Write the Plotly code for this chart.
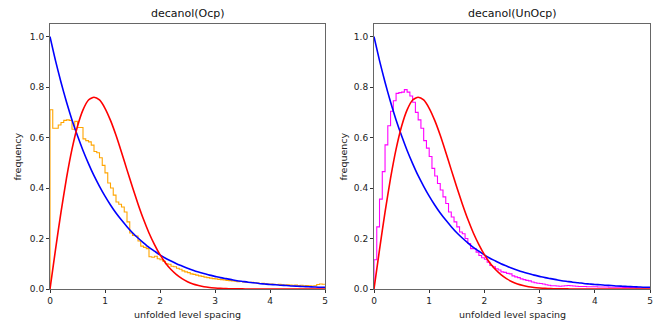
import plotly.graph_objects as go

# bin edges: 100 bins of width 0.05 on [0, 5]
bin_width = 0.05
n_bins = 100

ocp_freq = [
    0.71, 0.637, 0.637, 0.65, 0.66, 0.668, 0.67, 0.668, 0.633, 0.664,
    0.64, 0.64, 0.595, 0.588, 0.583, 0.57, 0.545, 0.54, 0.52, 0.49,
    0.46, 0.42, 0.40, 0.372, 0.345, 0.336, 0.325, 0.305, 0.266, 0.222,
    0.212, 0.21, 0.19, 0.17, 0.165, 0.16, 0.128, 0.126, 0.13, 0.12,
    0.116, 0.11, 0.10, 0.098, 0.09, 0.088, 0.082, 0.078, 0.072, 0.068,
    0.065, 0.06, 0.058, 0.055, 0.052, 0.05, 0.047, 0.045, 0.043, 0.041,
    0.04, 0.038, 0.037, 0.036, 0.034, 0.033, 0.032, 0.031, 0.029, 0.03,
    0.028, 0.027, 0.026, 0.027, 0.025, 0.024, 0.022, 0.023, 0.021, 0.02,
    0.02, 0.019, 0.018, 0.019, 0.017, 0.016, 0.017, 0.016, 0.015, 0.016,
    0.014, 0.015, 0.013, 0.014, 0.013, 0.012, 0.013, 0.018, 0.02, 0.019,
]

unocp_freq = [
    0.116, 0.246, 0.356, 0.465, 0.571, 0.647, 0.704, 0.746, 0.775, 0.778,
    0.78, 0.79, 0.78, 0.765, 0.74, 0.70, 0.67, 0.637, 0.588, 0.558,
    0.525, 0.478, 0.448, 0.418, 0.392, 0.365, 0.339, 0.305, 0.285, 0.266,
    0.246, 0.226, 0.219, 0.2, 0.18, 0.16, 0.16, 0.146, 0.133, 0.124,
    0.118, 0.106, 0.093, 0.088, 0.08, 0.075, 0.068, 0.066, 0.062, 0.06,
    0.052, 0.048, 0.045, 0.04, 0.037, 0.034, 0.032, 0.028, 0.025, 0.023,
    0.022, 0.02, 0.017, 0.015, 0.013, 0.013, 0.012, 0.011, 0.012, 0.013,
    0.014, 0.013, 0.012, 0.011, 0.010, 0.010, 0.010, 0.009, 0.009, 0.009,
    0.009, 0.008, 0.008, 0.008, 0.008, 0.007, 0.007, 0.007, 0.007, 0.007,
    0.006, 0.006, 0.006, 0.006, 0.006, 0.005, 0.005, 0.005, 0.005, 0.005,
]

# reference curves read at s = 0, 0.1, ..., 5.0
curve_s = [round(0.1 * i, 1) for i in range(51)]
poisson_p = [
    1.0, 0.905, 0.819, 0.741, 0.670, 0.607, 0.549, 0.497, 0.449, 0.407,
    0.368, 0.333, 0.301, 0.273, 0.247, 0.223, 0.202, 0.183, 0.165, 0.150,
    0.135, 0.122, 0.111, 0.100, 0.091, 0.082, 0.074, 0.067, 0.061, 0.055,
    0.050, 0.045, 0.041, 0.037, 0.033, 0.030, 0.027, 0.025, 0.022, 0.020,
    0.018, 0.017, 0.015, 0.014, 0.012, 0.011, 0.010, 0.009, 0.008, 0.007,
    0.0067,
]
goe_p = [
    0.0, 0.156, 0.305, 0.439, 0.554, 0.645, 0.710, 0.749, 0.760, 0.749,
    0.716, 0.668, 0.609, 0.542, 0.472, 0.403, 0.337, 0.276, 0.222, 0.176,
    0.136, 0.103, 0.077, 0.057, 0.041, 0.029, 0.020, 0.014, 0.009, 0.006,
    0.004, 0.0025, 0.0016, 0.001, 0.0006, 0.0004, 0.0002, 0.0001, 0.0, 0.0,
    0.0, 0.0, 0.0, 0.0, 0.0, 0.0, 0.0, 0.0, 0.0, 0.0,
    0.0,
]

titles = ["decanol(Ocp)", "decanol(UnOcp)"]
x_title = "unfolded level spacing"
y_title = "frequency"
x_ticks = [0, 1, 2, 3, 4, 5]
y_ticks = [0.0, 0.2, 0.4, 0.6, 0.8, 1.0]

edges = [round(bin_width * i, 2) for i in range(n_bins + 1)]

fig = go.Figure()

def step_xy(freqs):
    xs = [0.0] + edges
    ys = [0.0] + list(freqs) + [freqs[-1]]
    return xs, ys

hist_data = [(ocp_freq, "#FFA500"), (unocp_freq, "#FF00FF")]
axes_ids = [("x", "y"), ("x2", "y2")]

for (freqs, col), (xa, ya) in zip(hist_data, axes_ids):
    hx, hy = step_xy(freqs)
    fig.add_trace(go.Scatter(x=hx, y=hy, mode="lines", line=dict(color=col, width=1.1, shape="hv"),
                             xaxis=xa, yaxis=ya, showlegend=False, hoverinfo="skip"))
    fig.add_trace(go.Scatter(x=curve_s, y=poisson_p, mode="lines",
                             line=dict(color="#0000FF", width=1.6, shape="spline", smoothing=0.6),
                             xaxis=xa, yaxis=ya, showlegend=False))
    fig.add_trace(go.Scatter(x=curve_s, y=goe_p, mode="lines",
                             line=dict(color="#FF0000", width=1.6, shape="spline", smoothing=0.6),
                             xaxis=xa, yaxis=ya, showlegend=False))

# body margin is removed by post_script, so layout is in screen pixels
W, H = 661, 323
def px(x):
    return x / W
def py(y):
    return (H - y) / H

left_dom = [px(50), px(325)]
right_dom = [px(374), px(650)]
y_dom = [py(289), py(24)]

axis_common = dict(range=[0, 5], tickvals=x_ticks, ticks="outside", ticklen=3, tickwidth=0.8,
                   tickcolor="#333", showline=True, linecolor="#666", linewidth=1, mirror=True,
                   showgrid=False, zeroline=False, tickfont=dict(size=9, color="#222"), automargin=False)
yaxis_common = dict(range=[0, 1.05], tickvals=y_ticks, tickformat=".1f", ticks="outside", ticklen=3,
                    tickwidth=0.8, tickcolor="#333", showline=True, linecolor="#666", linewidth=1, mirror=True,
                    showgrid=False, zeroline=False, tickfont=dict(size=9, color="#222"), automargin=False)

annots = []
for dom, t, ylab_x in [(left_dom, titles[0], px(17)), (right_dom, titles[1], px(343))]:
    cx = (dom[0] + dom[1]) / 2
    annots.append(dict(text=t, x=cx, y=py(13), xref="paper", yref="paper", showarrow=False,
                       font=dict(size=11, color="#111"), xanchor="center", yanchor="middle"))
    annots.append(dict(text=x_title, x=cx, y=py(314), xref="paper", yref="paper", showarrow=False,
                       font=dict(size=9.5, color="#222"), xanchor="center", yanchor="middle"))
    annots.append(dict(text=y_title, x=ylab_x, y=(y_dom[0] + y_dom[1]) / 2, xref="paper", yref="paper",
                       showarrow=False, textangle=-90, font=dict(size=9.5, color="#222"),
                       xanchor="center", yanchor="middle"))

fig.update_layout(
    width=W, height=H,
    margin=dict(l=0, r=0, t=0, b=0),
    paper_bgcolor="white", plot_bgcolor="white",
    font=dict(family="DejaVu Sans", color="#222"),
    xaxis=dict(domain=left_dom, anchor="y", **axis_common),
    yaxis=dict(domain=y_dom, anchor="x", **yaxis_common),
    xaxis2=dict(domain=right_dom, anchor="y2", **axis_common),
    yaxis2=dict(domain=y_dom, anchor="x2", **yaxis_common),
    annotations=annots,
)

fig.write_html("out.html", config={"displayModeBar": False},
               post_script="document.body.style.margin='0px';")
